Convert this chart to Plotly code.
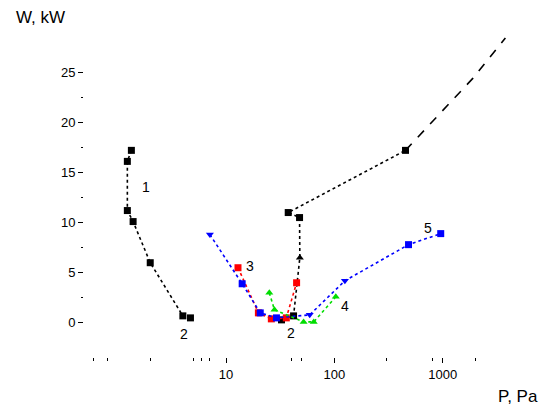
import math
import plotly.graph_objects as go

# ---- data ----
p_curve1 = [1.34, 1.23, 1.23, 1.39, 2.0, 4.0, 4.7]
w_curve1 = [17.2, 16.1, 11.2, 10.1, 6.0, 0.7, 0.5]

p_curve2 = [32.5, 42, 48, 47.7, 37.5, 453]
w_curve2 = [0.3, 0.7, 6.5, 10.5, 11.0, 17.2]
p_curve2_ext = [453, 1900, 3780]
w_curve2_ext = [17.2, 24.4, 28.4]

p_red = [12.9, 19.9, 26.2, 36, 44.8]
w_red = [5.5, 1.0, 0.4, 0.5, 4.0]

p_blue = [7.1, 14.1, 20.7, 29.2, 59.2, 125, 483, 957]
w_blue = [8.8, 3.9, 1.0, 0.5, 0.8, 4.2, 7.8, 8.9]
blue_symbols = ["triangle-down", "square", "square", "square",
                "triangle-down", "triangle-down", "square", "square"]

p_green = [25.1, 28, 52, 64.5, 103]
w_green = [3.0, 1.3, 0.1, 0.1, 2.6]

curve_labels = ["1", "2", "3", "2", "4", "5"]
label_p = [1.84, 4.06, 16.7, 39.4, 125, 724]
label_w = [13.5, -1.1, 5.7, -1.0, 1.7, 9.5]

y_ticks = [0, 5, 10, 15, 20, 25]
y_minor = [2.5, 7.5, 12.5, 17.5, 22.5]
x_ticks = [10, 100, 1000]
x_minor = [0.6, 0.8, 2, 5, 6, 7, 40, 50, 300, 800, 2000]

fig = go.Figure()

line_w = 1.6
fig.add_trace(go.Scatter(x=p_curve1, y=w_curve1, mode="lines+markers",
                         line=dict(color="black", dash="dot", width=line_w),
                         marker=dict(symbol="square", size=7, color="black")))
fig.add_trace(go.Scatter(x=p_curve2, y=w_curve2, mode="lines+markers",
                         line=dict(color="black", dash="dot", width=line_w),
                         marker=dict(symbol=["square", "square", "triangle-up", "square", "square", "square"],
                                     size=7, color="black")))
fig.add_trace(go.Scatter(x=p_curve2_ext, y=w_curve2_ext, mode="lines",
                         line=dict(color="black", dash="dash", width=line_w)))
fig.add_trace(go.Scatter(x=p_red, y=w_red, mode="lines+markers",
                         line=dict(color="red", dash="dot", width=line_w),
                         marker=dict(symbol="square", size=7, color="red")))
fig.add_trace(go.Scatter(x=p_blue, y=w_blue, mode="lines+markers",
                         line=dict(color="blue", dash="dot", width=line_w),
                         marker=dict(symbol=blue_symbols, size=7, color="blue")))
fig.add_trace(go.Scatter(x=p_green, y=w_green, mode="lines+markers",
                         line=dict(color="#00dd00", dash="dot", width=line_w),
                         marker=dict(symbol="triangle-up", size=7, color="#00dd00")))

for t, px, wy in zip(curve_labels, label_p, label_w):
    fig.add_annotation(x=math.log10(px), y=wy, text=t, showarrow=False,
                       font=dict(size=14, color="black", family="Liberation Sans"))

fig.add_annotation(x=0.0, y=1.0, xref="paper", yref="paper", xanchor="left", yanchor="bottom",
                   xshift=-70, yshift=6, text="W, kW", showarrow=False,
                   font=dict(size=17, color="black", family="Liberation Sans"))
fig.add_annotation(x=1.0, y=0.0, xref="paper", yref="paper", xanchor="left", yanchor="top",
                   xshift=-14, yshift=-28, text="P, Pa", showarrow=False,
                   font=dict(size=17, color="black", family="Liberation Sans"))

fig.update_layout(
    width=554, height=408,
    margin=dict(l=84, r=44, t=35, b=51),
    paper_bgcolor="white", plot_bgcolor="white",
    showlegend=False,
    font=dict(family="Liberation Sans", size=13, color="black"),
    xaxis=dict(type="log", range=[-0.31, 3.62], showgrid=False, zeroline=False,
               showline=False, ticks="outside", ticklen=5, tickcolor="black",
               tickvals=x_ticks, ticktext=[str(v) for v in x_ticks],
               minor=dict(tickvals=x_minor, ticks="outside", ticklen=3, tickcolor="black", showgrid=False)),
    yaxis=dict(range=[-3.4, 28.7], showgrid=False, zeroline=False, showline=False,
               ticks="outside", ticklen=5, tickcolor="black",
               tickvals=y_ticks, ticktext=[str(v) for v in y_ticks],
               minor=dict(tickvals=y_minor, ticks="outside", ticklen=2, tickcolor="black", showgrid=False)),
)

fig.write_html("out.html")
